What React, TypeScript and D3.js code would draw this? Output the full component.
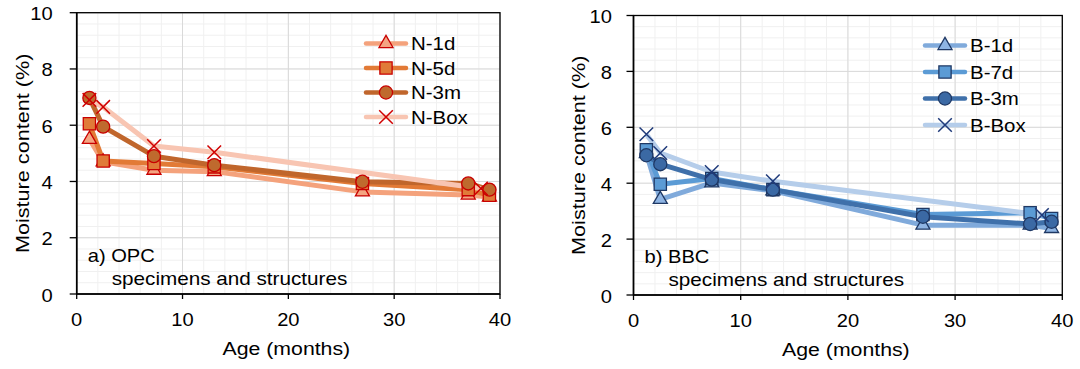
import React from "react";
import * as d3 from "d3";

// ---------- data ----------
const ageMain = [1.2, 2.5, 7.3, 13, 27, 37, 39];
const ageBoxN = [1.2, 2.5, 7.3, 13, 38.2];
const ageBoxB = [1.2, 2.5, 7.3, 13, 38.1];

const n1d = [5.5, 4.7, 4.4, 4.35, 3.63, 3.52, 3.45];
const n5d = [6.05, 4.73, 4.64, 4.52, 3.93, 3.71, 3.51];
const n3m = [6.97, 5.95, 4.9, 4.58, 3.99, 3.93, 3.71];
const nBox = [6.9, 6.65, 5.26, 5.04, 3.75];

const b1d = [5.06, 3.42, 4.01, 3.73, 2.5, 2.5, 2.38];
const b7d = [5.2, 3.96, 4.17, 3.77, 2.88, 2.94, 2.74];
const b3m = [5.0, 4.68, 4.13, 3.77, 2.8, 2.54, 2.62];
const bBox = [5.75, 5.08, 4.4, 4.07, 2.86];

const xTicks = [0, 10, 20, 30, 40];
const yTicks = [0, 2, 4, 6, 8, 10];

type Series = {
  name: string;
  x: number[];
  y: number[];
  line: string;
  fill: string;
  edge: string;
  marker: "triangle" | "square" | "circle" | "x";
};

const seriesN: Series[] = [
  { name: "N-1d", x: ageMain, y: n1d, line: "#F4A27C", fill: "#F4A582", edge: "#C80000", marker: "triangle" },
  { name: "N-5d", x: ageMain, y: n5d, line: "#E27A36", fill: "#E07B39", edge: "#C80000", marker: "square" },
  { name: "N-3m", x: ageMain, y: n3m, line: "#C0662C", fill: "#BF6A2E", edge: "#C80000", marker: "circle" },
  { name: "N-Box", x: ageBoxN, y: nBox, line: "#F8C5B2", fill: "none", edge: "#D00000", marker: "x" },
];

const seriesB: Series[] = [
  { name: "B-1d", x: ageMain, y: b1d, line: "#80AADB", fill: "#8EB4E3", edge: "#1F3864", marker: "triangle" },
  { name: "B-7d", x: ageMain, y: b7d, line: "#5B9BD5", fill: "#5B9BD5", edge: "#1F3864", marker: "square" },
  { name: "B-3m", x: ageMain, y: b3m, line: "#3F70AA", fill: "#3B69A4", edge: "#1F3864", marker: "circle" },
  { name: "B-Box", x: ageBoxB, y: bBox, line: "#B5CDEA", fill: "none", edge: "#1F3A7A", marker: "x" },
];

const FONT = "'Liberation Sans', Arial, sans-serif";
const SX = 1.15;

function Marker({ kind, cx, cy, fill, edge }: { kind: Series["marker"]; cx: number; cy: number; fill: string; edge: string }) {
  if (kind === "x") {
    const h = 6.8;
    return (
      <path
        transform={`translate(${cx},${cy})`}
        d={`M${-h},${-h}L${h},${h}M${-h},${h}L${h},${-h}`}
        stroke={edge}
        strokeWidth={1.5}
        fill="none"
      />
    );
  }
  const type = kind === "triangle" ? d3.symbolTriangle : kind === "square" ? d3.symbolSquare : d3.symbolCircle;
  const size = kind === "triangle" ? 85 : kind === "square" ? 150 : 135;
  const d = d3.symbol().type(type).size(size)() as string;
  return <path transform={`translate(${cx},${cy})`} d={d} fill={fill} stroke={edge} strokeWidth={1.3} />;
}

function Panel({
  left, right, top, bottom, series, label, ytitleX, legendX, legendY, legendStep, tickLabelGap,
}: {
  left: number; right: number; top: number; bottom: number; series: Series[]; label: string;
  ytitleX: number; legendX: number; legendY: number; legendStep: number; tickLabelGap: number;
}) {
  const x = d3.scaleLinear().domain([0, 40]).range([left, right]);
  const y = d3.scaleLinear().domain([0, 10]).range([bottom, top]);
  const minorX = d3.range(0, 40.001, 2);
  const minorY = d3.range(0, 10.001, 0.4);
  const line = d3.line<[number, number]>().x((d) => x(d[0])).y((d) => y(d[1]));

  return (
    <g fontFamily={FONT}>
      {minorX.map((v) => (
        <line key={"mx" + v} x1={x(v)} x2={x(v)} y1={top} y2={bottom} stroke="#F0F0F0" strokeWidth={1} />
      ))}
      {minorY.map((v) => (
        <line key={"my" + v} x1={left} x2={right} y1={y(v)} y2={y(v)} stroke="#F0F0F0" strokeWidth={1} />
      ))}
      {xTicks.map((v) => (
        <line key={"gx" + v} x1={x(v)} x2={x(v)} y1={top} y2={bottom} stroke="#D9D9D9" strokeWidth={1} />
      ))}
      {yTicks.map((v) => (
        <line key={"gy" + v} x1={left} x2={right} y1={y(v)} y2={y(v)} stroke="#D9D9D9" strokeWidth={1} />
      ))}
      <rect x={left} y={top} width={right - left} height={bottom - top} fill="none" stroke="#000" strokeWidth={1.3} />
      <line x1={left} x2={left} y1={top} y2={bottom} stroke="#000" strokeWidth={1.6} />
      <line x1={left} x2={right} y1={bottom} y2={bottom} stroke="#000" strokeWidth={1.6} />
      {yTicks.map((v) => (
        <g key={"ty" + v}>
          <line x1={left - 7} x2={left} y1={y(v)} y2={y(v)} stroke="#000" strokeWidth={1.3} />
          <text transform={`translate(${left - tickLabelGap},${y(v) + 7.5}) scale(${SX},1)`} textAnchor="end" fontSize={17.5} fill="#000">
            {v}
          </text>
        </g>
      ))}
      {xTicks.map((v) => (
        <g key={"tx" + v}>
          <line x1={x(v)} x2={x(v)} y1={bottom} y2={bottom + 5} stroke="#000" strokeWidth={1.3} />
          <text transform={`translate(${x(v)},${bottom + 31.5}) scale(${SX},1)`} textAnchor="middle" fontSize={17.5} fill="#000">
            {v}
          </text>
        </g>
      ))}
      <text transform={`translate(${(left + right) / 2 - 2},${bottom + 61}) scale(${SX},1)`} textAnchor="middle" fontSize={18.5} fill="#000">
        Age (months)
      </text>
      <text transform={`translate(${ytitleX},${(top + bottom) / 2}) rotate(-90) scale(${SX},1)`} textAnchor="middle" fontSize={18.8} fill="#000">
        Moisture content (%)
      </text>
      <text transform={`translate(${left + 11},${bottom - 32}) scale(${SX},1)`} fontSize={17.5} fill="#000">
        {label}
      </text>
      <text transform={`translate(${left + 35},${bottom - 9}) scale(${SX},1)`} fontSize={18} fill="#000">
        specimens and structures
      </text>
      {series.map((s) => (
        <path
          key={"l" + s.name}
          d={line(s.x.map((v, i) => [v, s.y[i]] as [number, number])) as string}
          fill="none"
          stroke={s.line}
          strokeWidth={5}
          strokeLinejoin="round"
        />
      ))}
      {series.map((s) => (
        <g key={"m" + s.name}>
          {s.x.map((v, i) => (
            <Marker key={i} kind={s.marker} cx={x(v)} cy={y(s.y[i])} fill={s.fill} edge={s.edge} />
          ))}
        </g>
      ))}
      {series.map((s, i) => {
        const ry = legendY + i * legendStep;
        return (
          <g key={"lg" + s.name}>
            <line x1={legendX} x2={legendX + 40} y1={ry} y2={ry} stroke={s.line} strokeWidth={4.5} strokeLinecap="round" />
            <Marker kind={s.marker} cx={legendX + 20} cy={ry} fill={s.fill} edge={s.edge} />
            <text transform={`translate(${legendX + 45},${ry + 6.5}) scale(${SX},1)`} fontSize={17.8} fill="#000">
              {s.name}
            </text>
          </g>
        );
      })}
    </g>
  );
}

export default function App() {
  return (
    <svg width={1080} height={369} style={{ position: "absolute", left: 0, top: 0, background: "#fff" }}>
      <rect x={0} y={0} width={1080} height={369} fill="#fff" />
      <Panel left={76.7} right={500} top={12.7} bottom={294} series={seriesN} label="a) OPC"
        ytitleX={29} legendX={366} legendY={43.5} legendStep={24.5} tickLabelGap={24} />
      <Panel left={633.5} right={1062.3} top={15.5} bottom={295} series={seriesB} label="b) BBC"
        ytitleX={585} legendX={925} legendY={45.5} legendStep={26.5} tickLabelGap={21.5} />
    </svg>
  );
}
